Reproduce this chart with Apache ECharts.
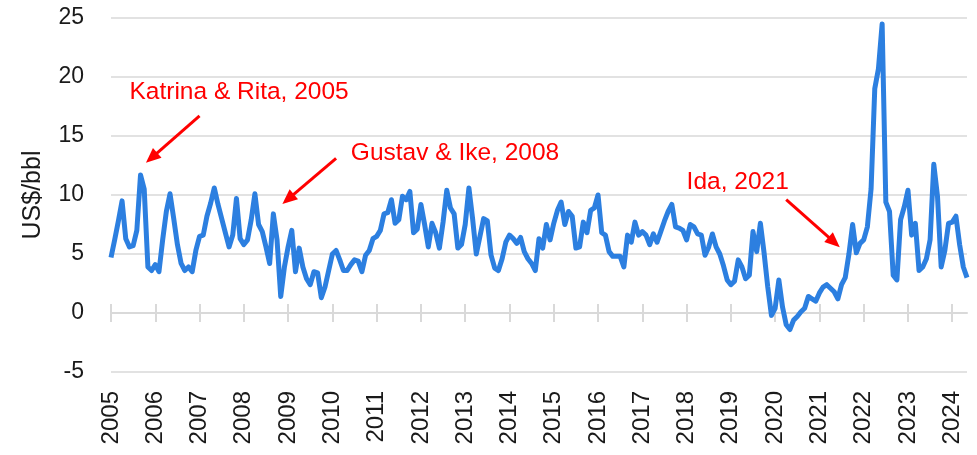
<!DOCTYPE html>
<html>
<head>
<meta charset="utf-8">
<script src="https://cdn.jsdelivr.net/npm/echarts/dist/echarts.min.js"></script>
<style>
  html, body { margin: 0; padding: 0; background: #fff; }
  #chart { width: 977px; height: 455px; }
</style>
</head>
<body>
<div id="chart"></div>
<script>
// tick labels (one per January)
const years = ['2005', '2006', '2007', '2008', '2009', '2010', '2011', '2012', '2013', '2014',
  '2015', '2016', '2017', '2018', '2019', '2020', '2021', '2022', '2023', '2024'];

// monthly values, US$/bbl, Jan 2005 - May 2024
const spread = [
  4.7, 6.2, 7.8, 9.5, 6.3, 5.6, 5.7, 7.0, 11.7, 10.5, 3.9, 3.6,     // 2005
  4.1, 3.5, 6.2, 8.6, 10.1, 8.0, 5.8, 4.2, 3.6, 3.9, 3.5, 5.3,      // 2006
  6.5, 6.6, 8.2, 9.3, 10.6, 9.2, 8.0, 6.8, 5.6, 6.6, 9.7, 6.3,      // 2007
  5.8, 6.2, 7.9, 10.1, 7.5, 6.9, 5.6, 4.2, 8.4, 6.2, 1.4, 3.9,      // 2008
  5.6, 7.0, 3.5, 5.5, 3.9, 2.9, 2.4, 3.5, 3.4, 1.3, 2.2, 3.6,       // 2009
  5.0, 5.3, 4.5, 3.6, 3.6, 4.1, 4.5, 4.4, 3.5, 4.9, 5.3, 6.3,       // 2010
  6.5, 7.0, 8.4, 8.5, 9.6, 7.6, 7.9, 9.9, 9.6, 10.3, 6.8, 7.1,      // 2011
  9.2, 7.5, 5.6, 7.6, 6.8, 5.5, 7.7, 10.4, 8.9, 8.4, 5.5, 5.8,      // 2012
  7.5, 10.6, 8.0, 5.0, 6.5, 8.0, 7.8, 4.9, 3.8, 3.6, 4.6, 6.0,      // 2013
  6.6, 6.3, 5.9, 6.4, 5.2, 4.6, 4.2, 3.6, 6.3, 5.5, 7.5, 6.2,       // 2014
  7.6, 8.7, 9.4, 7.5, 8.6, 8.2, 5.5, 5.6, 7.7, 6.8, 8.7, 8.9,       // 2015
  10.0, 6.8, 6.6, 5.2, 4.8, 4.8, 4.8, 3.9, 6.6, 6.0, 7.7, 6.6,      // 2016
  6.9, 6.6, 5.8, 6.7, 6.0, 6.9, 7.8, 8.6, 9.2, 7.3, 7.2, 7.0,       // 2017
  6.2, 7.5, 7.3, 6.7, 6.6, 4.9, 5.6, 6.7, 5.6, 5.0, 4.0, 2.8,       // 2018
  2.4, 2.7, 4.5, 3.9, 2.9, 3.2, 6.9, 5.2, 7.6, 5.1, 2.2, -0.2,      // 2019
  0.4, 2.8, 0.5, -1.0, -1.4, -0.6, -0.3, 0.1, 0.4, 1.4, 1.2, 1.0,   // 2020
  1.7, 2.2, 2.4, 2.1, 1.8, 1.2, 2.4, 3.0, 5.0, 7.5, 5.1, 5.9,       // 2021
  6.2, 7.3, 10.5, 19.0, 20.7, 24.5, 9.4, 8.6, 3.2, 2.8, 7.9, 9.0,   // 2022
  10.4, 6.6, 7.6, 3.6, 3.9, 4.6, 6.2, 12.6, 9.9, 3.9, 5.3, 7.6,     // 2023
  7.7, 8.2, 5.8, 3.9, 3.0                                           // 2024
];

// hurricane notes: month index / value of text start, arrow tail, arrow head
const notes = [
  { text: 'Katrina & Rita, 2005', at: [5, 18.7], from: [24, 16.7], to: [11, 13.15] },
  { text: 'Gustav & Ike, 2008', at: [65, 13.55], from: [61, 13.1], to: [48, 9.65] },
  { text: 'Ida, 2021', at: [156, 11.1], from: [183, 9.6], to: [196, 6.0] }
];

const categories = [];
years.forEach(y => {
  for (let m = 1; m <= 12; m++) {
    if (categories.length < spread.length) categories.push(y + '-' + (m < 10 ? '0' + m : m));
  }
});

const gray = '#d9d9d9';
const red = '#ff0000';
const font = '"Liberation Sans", Arial, sans-serif';

const chart = echarts.init(document.getElementById('chart'));
chart.setOption({
  animation: false,
  grid: { left: 111, right: 10, top: 18, bottom: 83 },
  xAxis: [
    {
      // labels along the bottom
      type: 'category', data: categories, boundaryGap: false, position: 'bottom',
      axisLine: { show: false, onZero: false },
      axisTick: { show: false },
      splitLine: { show: false },
      axisLabel: {
        interval: 11, rotate: 90, margin: 19,
        fontFamily: font, fontSize: 24, color: '#1a1a1a',
        formatter: v => v.slice(0, 4)
      }
    },
    {
      // axis line through zero, ticks below it
      type: 'category', data: categories, boundaryGap: false, position: 'bottom',
      axisLine: { onZero: true, onZeroAxisIndex: 0, lineStyle: { color: gray, width: 2 } },
      axisTick: { interval: 11, length: 9, lineStyle: { color: gray, width: 2 } },
      axisLabel: { show: false },
      splitLine: { show: false }
    },
    {
      // ticks above the zero line
      type: 'category', data: categories, boundaryGap: false, position: 'bottom',
      axisLine: { show: false, onZero: true, onZeroAxisIndex: 0 },
      axisTick: { interval: 11, inside: true, length: 9, lineStyle: { color: gray, width: 2 } },
      axisLabel: { show: false },
      splitLine: { show: false }
    }
  ],
  yAxis: {
    type: 'value', min: -5, max: 25, interval: 5,
    name: 'US$/bbl', nameLocation: 'middle', nameRotate: 90, nameGap: 65,
    nameTextStyle: { fontFamily: font, fontSize: 25, color: '#1a1a1a' },
    axisLine: { show: false },
    axisTick: { show: false },
    axisLabel: { fontFamily: font, fontSize: 23, color: '#1a1a1a', margin: 27 },
    splitLine: { lineStyle: { color: gray, width: 1.7 } }
  },
  series: [{
    type: 'line',
    data: spread,
    showSymbol: false,
    symbol: 'none',
    lineStyle: { color: '#2c7fe0', width: 5, join: 'round' },
    markLine: {
      silent: true,
      symbol: ['none', 'triangle'],
      symbolSize: [13, 15],
      label: { show: false },
      lineStyle: { color: red, width: 3, type: 'solid' },
      data: notes.map(n => [
        { coord: [categories[n.from[0]], n.from[1]] },
        { coord: [categories[n.to[0]], n.to[1]] }
      ])
    },
    markPoint: {
      silent: true,
      symbol: 'circle',
      symbolSize: 0,
      itemStyle: { color: red },
      label: {
        show: true, position: 'right', distance: 0,
        fontFamily: font, fontSize: 24.5, color: red,
        formatter: p => p.name
      },
      data: notes.map(n => ({ name: n.text, coord: [categories[n.at[0]], n.at[1]] }))
    }
  }]
});
</script>
</body>
</html>
